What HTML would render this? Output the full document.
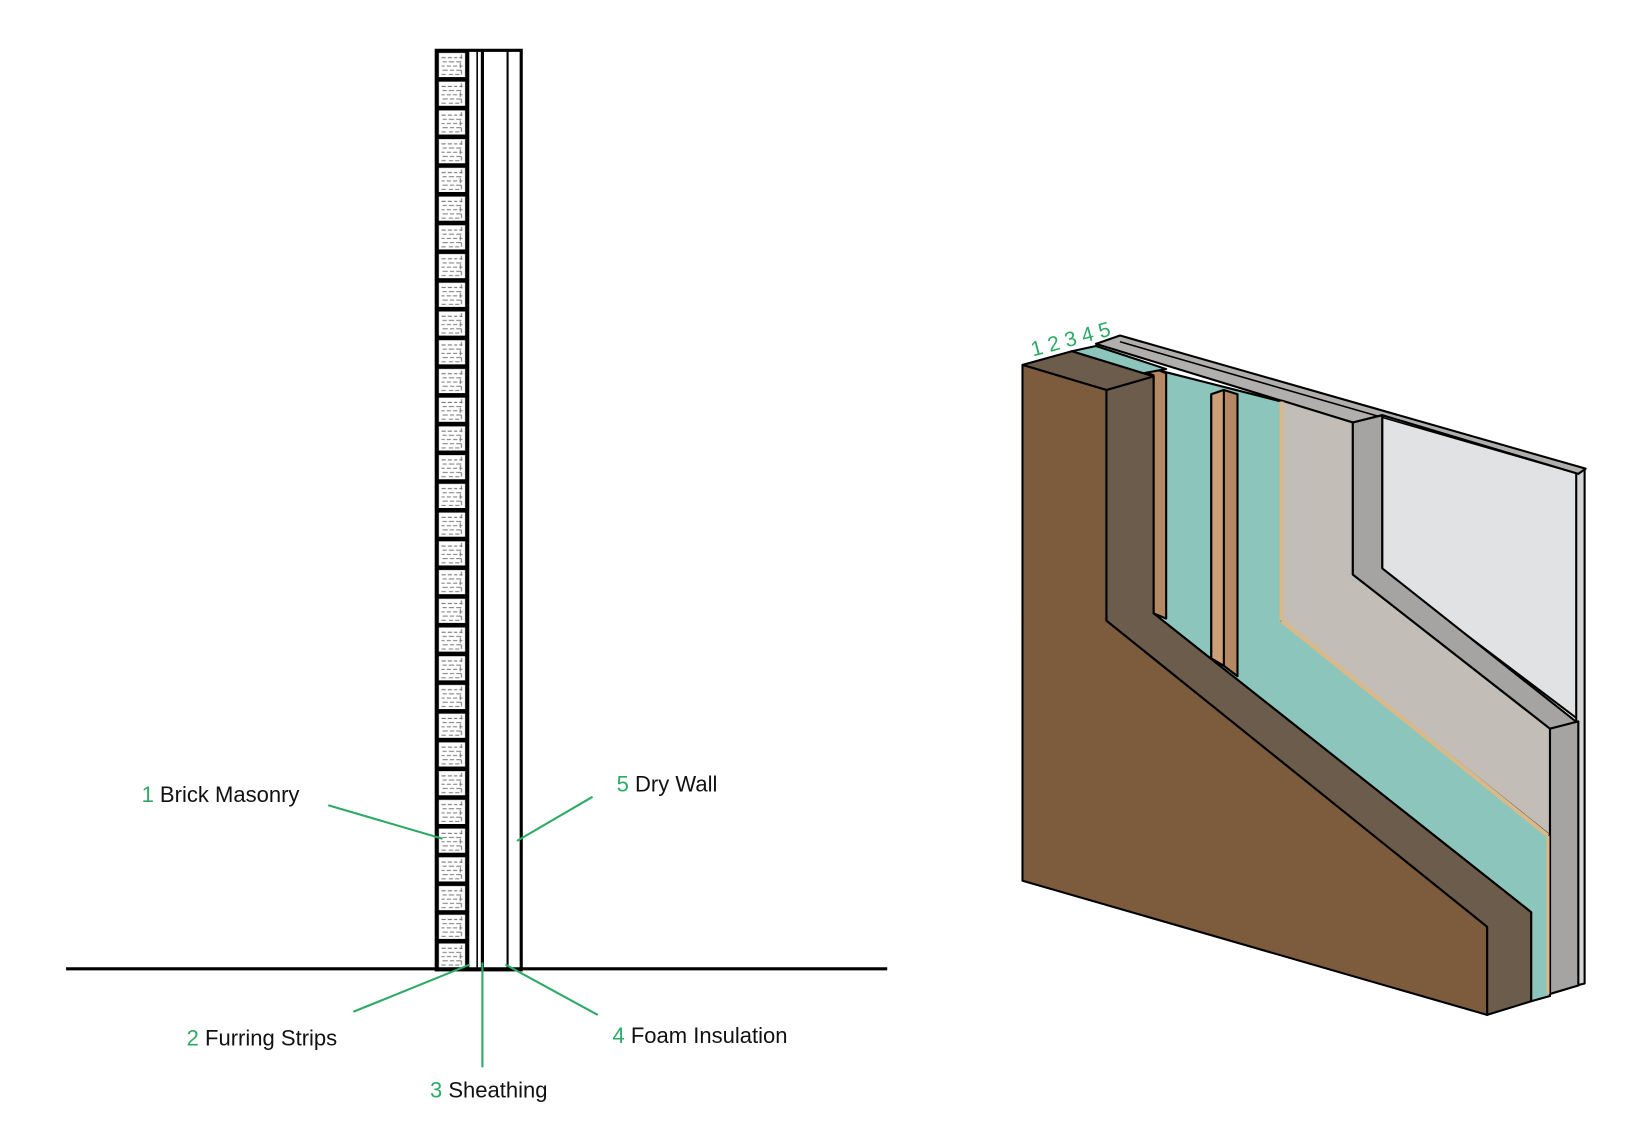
<!DOCTYPE html>
<html><head><meta charset="utf-8"><style>
html,body{margin:0;padding:0;background:#fff;}
svg{display:block;}
text{font-family:"Liberation Sans",sans-serif;}
</style></head><body>
<svg width="1636" height="1125" viewBox="0 0 1560 1073" preserveAspectRatio="none" xmlns="http://www.w3.org/2000/svg">
<defs>
<pattern id="brick" x="416" y="48" width="30" height="27.4" patternUnits="userSpaceOnUse">
<rect x="0" y="0" width="30" height="27.4" fill="#000"/>
<rect x="2.5" y="2.5" width="25" height="23" fill="#fff"/>
<g stroke="#777" stroke-width="1">
<path d="M5 7h4M11 7h4M17 7h3M22 7h3M6 11h4M12 11h5M19 11h5M5 15h3M10 15h4M16 15h4M22 15h3M6 19h5M13 19h4M19 19h5M5 23h4M12 23h4M18 23h4"/>
<path d="M24 4v4M23 12v5M24 19v4"/>
</g>
</pattern>
</defs>
<!-- 2D section -->
<rect x="416" y="48" width="30" height="877" fill="url(#brick)"/>
<rect x="416" y="48" width="81" height="877" fill="none" stroke="#000" stroke-width="3"/>
<line x1="446" y1="48" x2="446" y2="925" stroke="#000" stroke-width="3"/>
<line x1="455" y1="48" x2="455" y2="925" stroke="#000" stroke-width="1.5"/>
<line x1="460" y1="48" x2="460" y2="925" stroke="#000" stroke-width="3"/>
<line x1="484" y1="48" x2="484" y2="925" stroke="#000" stroke-width="2"/>
<line x1="63" y1="924" x2="846" y2="924" stroke="#000" stroke-width="3"/>
<g stroke="#2eaa66" stroke-width="2">
<line x1="313" y1="768" x2="422" y2="800"/>
<line x1="565" y1="760" x2="493" y2="802"/>
<line x1="337" y1="965" x2="448" y2="920"/>
<line x1="460" y1="1018" x2="460" y2="918"/>
<line x1="570" y1="968" x2="482" y2="920"/>
</g>
<g font-size="21" fill="#111">
<text x="135" y="765"><tspan fill="#2eaa66">1</tspan> Brick Masonry</text>
<text x="588" y="755"><tspan fill="#2eaa66">5</tspan> Dry Wall</text>
<text x="178" y="997"><tspan fill="#2eaa66">2</tspan> Furring Strips</text>
<text x="410" y="1047"><tspan fill="#2eaa66">3</tspan> Sheathing</text>
<text x="584" y="995"><tspan fill="#2eaa66">4</tspan> Foam Insulation</text>
</g>
<!-- 3D -->
<g stroke="#000" stroke-width="2" stroke-linejoin="round">
<!-- drywall far face -->
<polygon points="1318,396 1510,447 1510,690 1318,545" fill="#e1e2e4"/>
<!-- thin right band -->
<polygon points="1503,450 1511,447 1511,938 1503,940" fill="#d4d4d4"/>
<!-- drywall top band -->
<polygon points="1045,328 1068,320 1512,447 1505,452 1318,396 1290,403" fill="#b0afad"/>
<line x1="1068" y1="326" x2="1505" y2="452" stroke-width="1.5"/>
<!-- drywall mid face -->
<polygon points="1222,382 1290,403 1290,548 1478,695 1478,797 1222,592" fill="#c2bdb6"/>
<!-- drywall inner side -->
<polygon points="1290,403 1318,396 1318,542 1505,690 1478,695 1290,548" fill="#a5a4a2"/>
<!-- drywall right edge -->
<polygon points="1478,695 1505,688 1505,940 1478,948" fill="#a5a4a2"/>
<!-- teal foam -->
<polygon points="1100,352 1222,383 1222,592 1478,797 1478,950 1460,955 1460,870 1100,585" fill="#8bc5bb"/>
<line x1="1222" y1="383" x2="1222" y2="592" stroke="#d9b98a" stroke-width="4"/>
<line x1="1222" y1="592" x2="1476" y2="797" stroke="#d9b98a" stroke-width="4"/>
<line x1="1476" y1="797" x2="1476" y2="948" stroke="#d9b98a" stroke-width="3"/>
<!-- strip 2 -->
<polygon points="1155,376 1167,372 1180,376 1180,645 1167,635 1155,628" fill="#b58864"/>
<polygon points="1155,376 1167,372 1167,635 1155,628" fill="#cc9f78"/>
<!-- strip 1 -->
<polygon points="1090,354 1102,352 1112,356 1112,590 1100,585 1100,358" fill="#b58864"/>
<!-- top thin parts -->
<polygon points="1022,335 1045,330 1112,352 1090,356" fill="#8bc5bb"/>
<!-- brick dark side -->
<polygon points="1055,372 1100,359 1100,585 1460,870 1460,955 1418,968 1418,884 1055,592" fill="#6c5c4b"/>
<!-- brick top -->
<polygon points="975,348 1022,335 1100,359 1055,372" fill="#6c5c4b"/>
<!-- brick front -->
<polygon points="975,348 1055,372 1055,592 1418,884 1418,968 975,840" fill="#7d5c3e"/>
</g>
<g font-size="20" fill="#2eaa66" transform="translate(985,340) rotate(-15)">
<text x="0" y="0">1 2 3 4 5</text>
</g>
</svg>
</body></html>
